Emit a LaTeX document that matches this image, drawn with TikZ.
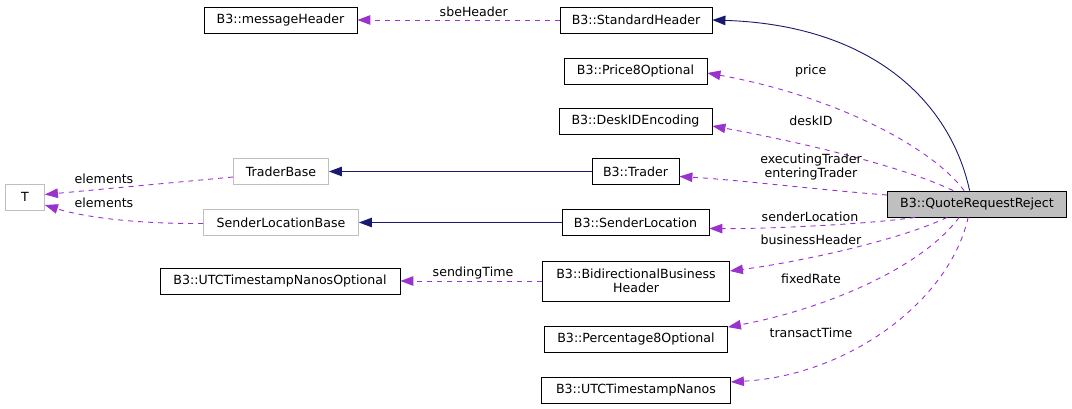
\documentclass[tikz,border=0pt]{standalone}
\usepackage{fontspec}
\setmainfont{DejaVu Sans}
\usetikzlibrary{arrows.meta,calc}
\definecolor{inh}{HTML}{191970}
\definecolor{usage}{HTML}{9A32CD}
\definecolor{grayb}{HTML}{BFBFBF}
\tikzset{
  box/.style={draw=black, line width=0.8pt, fill=white, minimum height=26pt, inner sep=0pt,
    font=\fontsize{12.6}{14.3}\selectfont, text=black},
  gbox/.style={box, draw=grayb},
  qbox/.style={box, fill=grayb},
  inhedge/.style={draw=inh, line width=0.9pt, -{Triangle[length=13pt,width=9.5pt]}},
  useedge/.style={draw=usage, line width=0.9pt, dash pattern=on 5pt off 5pt, -{Triangle[length=13pt,width=9.5pt]}},
  elabel/.style={font=\fontsize{12.6}{14.3}\selectfont, inner sep=0pt, text=black, align=center}
}
\begin{document}
\begin{tikzpicture}[x=1pt,y=-1pt]
\useasboundingbox[fill=white] (0,0) rectangle (1072,409);
% nodes
\node[box, minimum width=153pt] (msg) at (280.5,20) {B3::messageHeader};
\node[box, minimum width=152pt] (std) at (636,20) {B3::StandardHeader};
\node[box, minimum width=143pt] (price) at (635.5,71) {B3::Price8Optional};
\node[box, minimum width=153pt] (desk) at (635.5,121.5) {B3::DeskIDEncoding};
\node[gbox, minimum width=95pt] (tb) at (281,171.5) {TraderBase};
\node[box, minimum width=87pt] (trader) at (635.5,171.5) {B3::Trader};
\node[gbox, minimum width=39pt] (T) at (25,197) {T};
\node[gbox, minimum width=155pt] (slb) at (281,222.5) {SenderLocationBase};
\node[box, minimum width=147pt] (sl) at (635.5,222.5) {B3::SenderLocation};
\node[qbox, minimum width=179pt] (q) at (977,204) {B3::QuoteRequestReject};
\node[box, minimum width=240pt] (utco) at (280,281) {B3::UTCTimestampNanosOptional};
\node[box, minimum width=187pt, minimum height=40pt, align=center] (bidir) at (636,281) {B3::BidirectionalBusiness\\Header};
\node[box, minimum width=183pt] (pct) at (636,339.5) {B3::Percentage8Optional};
\node[box, minimum width=189pt] (utcn) at (636,390) {B3::UTCTimestampNanos};
% edges
\draw[inhedge] ([xshift=82.5pt]q.north west) .. controls (950,100) and (870,25) .. (std.east);
\draw[useedge] ([xshift=77pt]q.north west) .. controls (930,145) and (830,95) .. ([yshift=-2pt]price.east);
\draw[useedge] ([xshift=66pt]q.north west) .. controls (900,165) and (790,140) .. ([yshift=-4.5pt]desk.east);
\draw[useedge] ([yshift=9pt]q.west) .. controls (820,190) and (740,180) .. ([yshift=-5pt]trader.east);
\draw[useedge] ([xshift=28pt]q.south west) .. controls (870,224) and (770,229) .. ([yshift=-6pt]sl.east);
\draw[useedge] ([xshift=60pt]q.south west) .. controls (900,240) and (800,262) .. ([yshift=10pt]bidir.east);
\draw[useedge] ([xshift=72pt]q.south west) .. controls (920,270) and (820,310) .. ([yshift=-1pt]pct.north east);
\draw[useedge] ([xshift=81pt]q.south west) .. controls (950,300) and (850,375) .. ([yshift=8pt]utcn.east);
\draw[useedge] (std.west) -- (msg.east);
\draw[inhedge] (trader.west) -- (tb.east);
\draw[inhedge] (sl.west) -- (slb.east);
\draw[useedge] (bidir.west) -- (utco.east);
\draw[useedge] ([yshift=-5.5pt]tb.west) -- ([yshift=2.5pt]T.east);
\draw[useedge] ([yshift=-1pt]slb.west) .. controls (130,224) and (80,216) .. ([yshift=-8pt]T.east);
% labels
\node[elabel] (lsbe) at (473.8,11.7) {sbeHeader};
\node[elabel] (lprice) at (810.7,70.7) {price};
\node[elabel] (ldesk) at (811,120.7) {deskID};
\node[elabel] (ltrader) at (811,167) {executingTrader\\enteringTrader};
\node[elabel] (lsl) at (810,216.7) {senderLocation};
\node[elabel] (lbh) at (811,240) {businessHeader};
\node[elabel] (lfr) at (811,279) {fixedRate};
\node[elabel] (ltt) at (811,332.7) {transactTime};
\node[elabel] (lst) at (473,272.7) {sendingTime};
\node[elabel] (le1) at (104,178.7) {elements};
\node[elabel] (le2) at (104,203.3) {elements};
\end{tikzpicture}
\end{document}
